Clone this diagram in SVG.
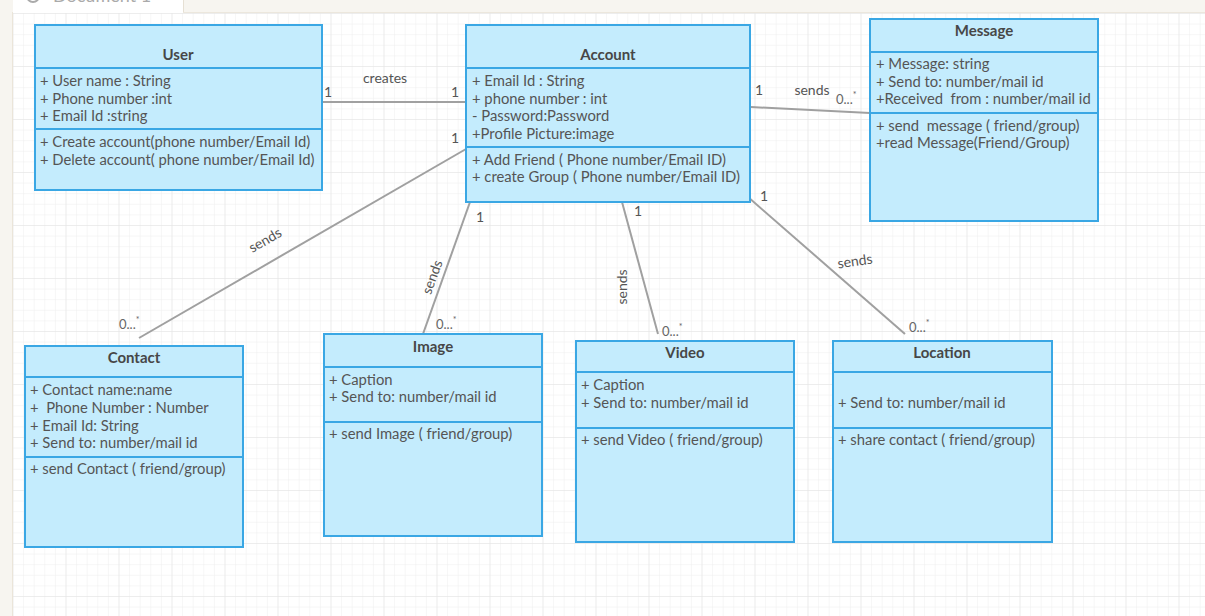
<svg xmlns="http://www.w3.org/2000/svg" width="1205" height="616" viewBox="0 0 1205 616">
<defs>
<pattern id="minor" x="12.5" y="13" width="10.6" height="10.6" patternUnits="userSpaceOnUse">
<path d="M0 0V10.6M0 0H10.6" stroke="#eeeeee" stroke-width="1" fill="none"/>
</pattern>
<pattern id="major" x="12.5" y="13" width="53" height="53" patternUnits="userSpaceOnUse">
<path d="M0 0V53M0 0H53" stroke="#e4e4e4" stroke-width="1" fill="none"/>
</pattern>
<style>
.box{fill:#c4ecfd;stroke:#3aa7e4;stroke-width:2}
.div{stroke:#3aa7e4;stroke-width:2;fill:none}
.title{font-family:Lato,"Liberation Sans",sans-serif;font-size:15px;font-weight:bold;fill:#474747;text-anchor:middle}
.t{font-family:Lato,"Liberation Sans",sans-serif;font-size:14.8px;fill:#555;white-space:pre}
.lbl{font-family:Lato,"Liberation Sans",sans-serif;font-size:14px;fill:#555}
.m{font-family:Lato,"Liberation Sans",sans-serif;font-size:13px;fill:#666}
.m tspan{font-size:9px}
.conn{stroke:#a0a0a0;stroke-width:2;fill:none}
</style>
</defs>
<rect width="1205" height="616" fill="#ffffff"/>
<rect x="13" y="13" width="1192" height="603" fill="url(#minor)"/>
<rect x="13" y="13" width="1192" height="603" fill="url(#major)"/>
<rect x="0" y="0" width="12" height="616" fill="#f7f5f0"/>
<line x1="12.5" y1="0" x2="12.5" y2="616" stroke="#ebe5d9"/>
<rect x="0" y="0" width="1205" height="12" fill="#f7f5f0"/>
<line x1="183" y1="12.5" x2="1205" y2="12.5" stroke="#ece7dd"/>
<rect x="13" y="0" width="170" height="13" fill="#ffffff"/>
<line x1="183.5" y1="0" x2="183.5" y2="12" stroke="#e6e0d4"/>
<circle cx="33" cy="-4" r="6" fill="none" stroke="#aaaaaa" stroke-width="2"/>
<text x="53" y="1.5" font-family="Lato,'Liberation Sans',sans-serif" font-size="18" fill="#aaaaaa">Document 1</text>

<g id="connectors">
<line class="conn" x1="322" y1="102" x2="466" y2="102"/>
<line class="conn" x1="751" y1="107" x2="870" y2="113"/>
<line class="conn" x1="466" y1="149" x2="139" y2="338"/>
<line class="conn" x1="470" y1="202" x2="423" y2="334"/>
<line class="conn" x1="622" y1="202" x2="658" y2="334"/>
<line class="conn" x1="748" y1="197" x2="905" y2="334"/>
<text class="lbl" x="385" y="83" text-anchor="middle">creates</text>
<text class="lbl" x="324" y="97">1</text>
<text class="lbl" x="451" y="97">1</text>
<text class="lbl" x="451" y="143">1</text>
<text class="lbl" x="755" y="95">1</text>
<text class="lbl" x="812" y="95" text-anchor="middle">sends</text>
<text class="m" x="836" y="104">0...<tspan dy="-6">*</tspan></text>
<text class="lbl" x="476" y="222">1</text>
<text class="lbl" x="634" y="216">1</text>
<text class="lbl" x="760" y="201">1</text>
<text class="lbl" transform="translate(265,240) rotate(-30)" text-anchor="middle" y="5">sends</text>
<text class="lbl" transform="translate(432,277) rotate(-70)" text-anchor="middle" y="5">sends</text>
<text class="lbl" transform="translate(622,287) rotate(-90)" text-anchor="middle" y="5">sends</text>
<text class="lbl" transform="translate(855,261) rotate(-8)" text-anchor="middle" y="5">sends</text>
<text class="m" x="119" y="329">0...<tspan dy="-6">*</tspan></text>
<text class="m" x="436" y="329">0...<tspan dy="-6">*</tspan></text>
<text class="m" x="662" y="336">0...<tspan dy="-6">*</tspan></text>
<text class="m" x="909" y="332">0...<tspan dy="-6">*</tspan></text>
</g>

<g id="user">
<rect class="box" x="35" y="25" width="287" height="165"/>
<line class="div" x1="35" y1="68" x2="322" y2="68"/>
<line class="div" x1="35" y1="129" x2="322" y2="129"/>
<text class="title" x="178" y="60">User</text>
<text class="t" x="40" y="86">+ User name : String</text>
<text class="t" x="40" y="104">+ Phone number :int</text>
<text class="t" x="40" y="121">+ Email Id :string</text>
<text class="t" x="40" y="147">+ Create account(phone number/Email Id)</text>
<text class="t" x="40" y="165">+ Delete account( phone number/Email Id)</text>
</g>

<g id="account">
<rect class="box" x="466" y="25" width="284" height="177"/>
<line class="div" x1="466" y1="68" x2="750" y2="68"/>
<line class="div" x1="466" y1="147" x2="750" y2="147"/>
<text class="title" x="608" y="60">Account</text>
<text class="t" x="472" y="86">+ Email Id : String</text>
<text class="t" x="472" y="104">+ phone number : int</text>
<text class="t" x="472" y="121">- Password:Password</text>
<text class="t" x="472" y="139">+Profile Picture:image</text>
<text class="t" x="472" y="165">+ Add Friend ( Phone number/Email ID)</text>
<text class="t" x="472" y="182">+ create Group ( Phone number/Email ID)</text>
</g>

<g id="message">
<rect class="box" x="870" y="19" width="228" height="202"/>
<line class="div" x1="870" y1="52" x2="1098" y2="52"/>
<line class="div" x1="870" y1="113" x2="1098" y2="113"/>
<text class="title" x="984" y="36">Message</text>
<text class="t" x="876" y="69">+ Message: string</text>
<text class="t" x="876" y="87">+ Send to: number/mail id</text>
<text class="t" x="876" y="104">+Received  from : number/mail id</text>
<text class="t" x="876" y="131">+ send  message ( friend/group)</text>
<text class="t" x="876" y="148">+read Message(Friend/Group)</text>
</g>

<g id="contact">
<rect class="box" x="25" y="346" width="218" height="201"/>
<line class="div" x1="25" y1="377" x2="243" y2="377"/>
<line class="div" x1="25" y1="457" x2="243" y2="457"/>
<text class="title" x="134" y="363">Contact</text>
<text class="t" x="30" y="395">+ Contact name:name</text>
<text class="t" x="30" y="413">+  Phone Number : Number</text>
<text class="t" x="30" y="431">+ Email Id: String</text>
<text class="t" x="30" y="448">+ Send to: number/mail id</text>
<text class="t" x="30" y="474">+ send Contact ( friend/group)</text>
</g>

<g id="image">
<rect class="box" x="324" y="334" width="218" height="202"/>
<line class="div" x1="324" y1="367" x2="542" y2="367"/>
<line class="div" x1="324" y1="422" x2="542" y2="422"/>
<text class="title" x="433" y="352">Image</text>
<text class="t" x="329" y="385">+ Caption</text>
<text class="t" x="329" y="402">+ Send to: number/mail id</text>
<text class="t" x="329" y="439">+ send Image ( friend/group)</text>
</g>

<g id="video">
<rect class="box" x="576" y="341" width="218" height="201"/>
<line class="div" x1="576" y1="372" x2="794" y2="372"/>
<line class="div" x1="576" y1="428" x2="794" y2="428"/>
<text class="title" x="685" y="358">Video</text>
<text class="t" x="581" y="390">+ Caption</text>
<text class="t" x="581" y="408">+ Send to: number/mail id</text>
<text class="t" x="581" y="445">+ send Video ( friend/group)</text>
</g>

<g id="location">
<rect class="box" x="833" y="341" width="219" height="201"/>
<line class="div" x1="833" y1="372" x2="1052" y2="372"/>
<line class="div" x1="833" y1="428" x2="1052" y2="428"/>
<text class="title" x="942" y="358">Location</text>
<text class="t" x="838" y="408">+ Send to: number/mail id</text>
<text class="t" x="838" y="445">+ share contact ( friend/group)</text>
</g>
</svg>
